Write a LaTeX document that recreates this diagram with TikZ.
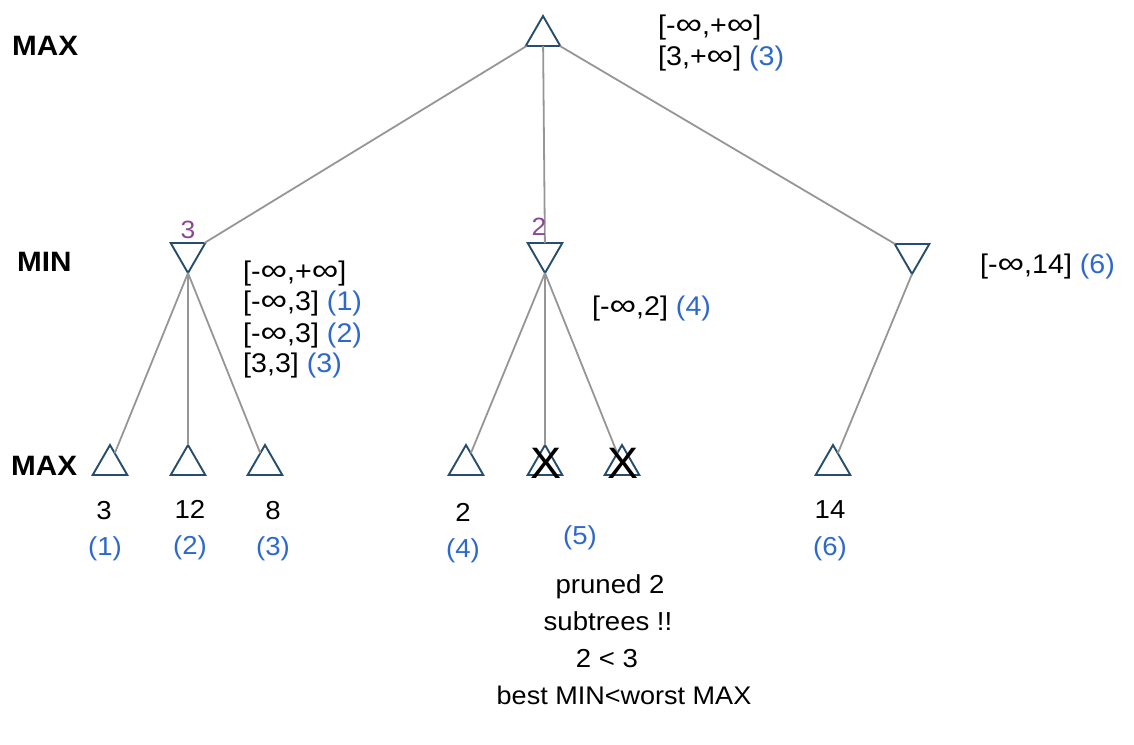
\documentclass[tikz,border=0pt]{standalone}
\usepackage{graphicx}
\usepackage{fontspec}
\setmainfont{Liberation Sans}[FakeStretch=1.06]
\newcommand\infsym{\raisebox{-0.8pt}{\scalebox{1.3}[1.12]{∞}}}
\usetikzlibrary{shapes.geometric}
\definecolor{tri}{RGB}{38,78,108}
\definecolor{edge}{RGB}{150,150,150}
\definecolor{idx}{RGB}{45,105,205}
\definecolor{val}{RGB}{140,70,150}
\begin{document}
\begin{tikzpicture}[x=1pt,y=-1pt,
  maxn/.style={regular polygon, regular polygon sides=3, minimum size=40pt,
    inner sep=0pt, outer sep=0pt, draw=tri, line width=1.9pt, fill=white},
  minn/.style={maxn, shape border rotate=180},
  link/.style={draw=edge, line width=1.8pt},
  level/.style={font=\fontsize{28}{30}\selectfont\bfseries, inner sep=0pt, anchor=base west},
  bound/.style={font=\fontsize{27}{30}\selectfont, inner sep=0pt, anchor=base west},
  leafval/.style={font=\fontsize{26}{28}\selectfont, inner sep=0pt, anchor=base},
  order/.style={leafval, text=idx},
  backed/.style={font=\fontsize{25}{27}\selectfont, text=val, inner sep=0pt, anchor=base},
  cut/.style={font=\fontsize{44}{44}\selectfont, inner sep=0pt},
  note/.style={font=\fontsize{26}{28}\selectfont, inner sep=0pt, anchor=base}]
\useasboundingbox (0,0) rectangle (1134,744);

% tree nodes
\node[maxn] (root) at (543,36) {};
\node[minn] (m1) at (188,253) {};
\node[minn] (m2) at (545,253) {};
\node[minn] (m3) at (912,254) {};
\node[maxn] (l1) at (110,465) {};
\node[maxn] (l2) at (188,465) {};
\node[maxn] (l3) at (265,465) {};
\node[maxn] (l4) at (466,465) {};
\node[maxn] (l5) at (545,465) {};
\node[maxn] (l6) at (622,465) {};
\node[maxn] (l7) at (833,465) {};

% connectors
\draw[link] (root) -- (m1);
\draw[link] (root) -- (m2);
\draw[link] (root) -- (m3);
\draw[link] (m1.corner 1) -- (l1);
\draw[link] (m1.corner 1) -- (l2);
\draw[link] (m1.corner 1) -- (l3);
\draw[link] (m2.corner 1) -- (l4);
\draw[link] (m2.corner 1) -- (l5);
\draw[link] (m2.corner 1) -- (l6);
\draw[link] (m3.corner 1) -- (l7);

% pruned leaves
\node[cut] (x5) at (546,463) {X};
\node[cut] (x6) at (623,463) {X};

% level names
\node[level] (lvA) at (12,55) {MAX};
\node[level] (lvB) at (17,271) {MIN};
\node[level] (lvC) at (11,475) {MAX};

% backed-up values
\node[backed] (v1) at (188,238) {3};
\node[backed] (v2) at (539,235) {2};

% alpha-beta windows
\node[bound] (r1) at (658,34) {[-\infsym,+\infsym]};
\node[bound] (r2) at (658,65) {[3,+\infsym] \textcolor{idx}{(3)}};
\node[bound] (a1) at (243,280) {[-\infsym,+\infsym]};
\node[bound] (a2) at (243,310) {[-\infsym,3] \textcolor{idx}{(1)}};
\node[bound] (a3) at (243,342) {[-\infsym,3] \textcolor{idx}{(2)}};
\node[bound] (a4) at (243,372) {[3,3] \textcolor{idx}{(3)}};
\node[bound] (b1) at (592,315) {[-\infsym,2] \textcolor{idx}{(4)}};
\node[bound] (c1) at (980,273) {[-\infsym,14] \textcolor{idx}{(6)}};

% leaf values and visiting order
\node[leafval] (t1) at (104,519) {3};
\node[leafval] (t2) at (190,518) {12};
\node[leafval] (t3) at (273,519) {8};
\node[leafval] (t4) at (463,521) {2};
\node[leafval] (t7) at (830,518) {14};
\node[order] (o1) at (105,555) {(1)};
\node[order] (o2) at (190,554) {(2)};
\node[order] (o3) at (273,555) {(3)};
\node[order] (o4) at (463,557) {(4)};
\node[order] (o5) at (580,544) {(5)};
\node[order] (o7) at (830,555) {(6)};

% remark
\node[note] (n1) at (610,593) {pruned 2};
\node[note] (n2) at (608,630) {subtrees !!};
\node[note] (n3) at (607,667) {2 < 3};
\node[note, font=\fontsize{25.5}{27}\selectfont] (n4) at (624,704) {best MIN<worst MAX};
\end{tikzpicture}
\end{document}
